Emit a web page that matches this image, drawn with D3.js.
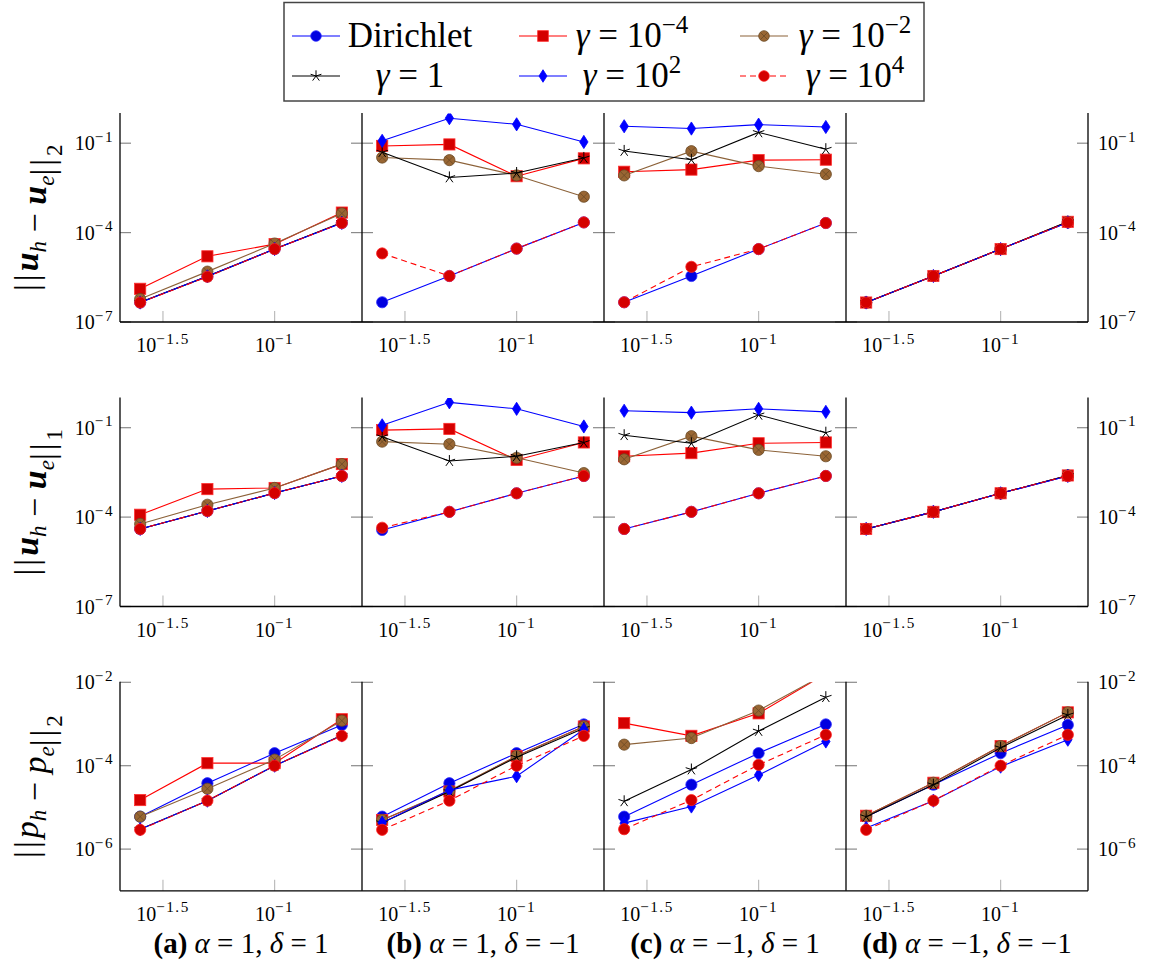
<!DOCTYPE html>
<html><head><meta charset="utf-8">
<script src="https://cdn.jsdelivr.net/npm/d3@7"></script>
<style>body{margin:0;background:#fff}svg{display:block}</style>
</head><body>
<svg id="c" width="1150" height="974"></svg>
<script>
// ---------- data ----------
const hValues = [0.025, 0.05, 0.1, 0.2];
const caseLetters = ["(a)", "(b)", "(c)", "(d)"];
const caseAlpha = ["1", "1", "\u22121", "\u22121"];
const caseDelta = ["1", "\u22121", "1", "\u22121"];
const seriesKeys = ["dir", "g1em4", "g1em2", "g1", "g1e2", "g1e4"];
const xTickValues = [Math.pow(10, -1.5), 0.1];
const xTickLabels = ["\u22121.5", "\u22121"];
const yTicksRowU = [1e-1, 1e-4, 1e-7];
const yTickLabelsRowU = ["\u22121", "\u22124", "\u22127"];
const yTicksRowP = [1e-2, 1e-4, 1e-6];
const yTickLabelsRowP = ["\u22122", "\u22124", "\u22126"];

// ||u_h - u_e||_2 : one array per series, 4 panels x 4 mesh sizes
const uL2_dir   = [[4.5e-7,3.4e-6,2.8e-5,2.1e-4],[4.6e-7,3.5e-6,2.9e-5,2.2e-4],[4.6e-7,3.5e-6,2.8e-5,2.1e-4],[4.5e-7,3.5e-6,2.8e-5,2.2e-4]];
const uL2_g1em4 = [[1.3e-6,1.6e-5,4.1e-5,4.7e-4],[8.1e-2,9.1e-2,7.8e-3,3.1e-2],[1.1e-2,1.3e-2,2.7e-2,2.8e-2],[4.5e-7,3.5e-6,2.8e-5,2.3e-4]];
const uL2_g1em2 = [[5.9e-7,4.9e-6,4.3e-5,4.4e-4],[3.3e-2,2.7e-2,8.3e-3,1.6e-3],[8.3e-3,5.4e-2,1.7e-2,9.1e-3],[4.5e-7,3.5e-6,2.8e-5,2.3e-4]];
const uL2_g1    = [[4.6e-7,3.4e-6,2.8e-5,2.2e-4],[5.0e-2,7.1e-3,1.0e-2,3.2e-2],[5.5e-2,2.8e-2,2.3e-1,6.3e-2],[4.5e-7,3.5e-6,2.8e-5,2.3e-4]];
const uL2_g1e2  = [[4.5e-7,3.4e-6,2.8e-5,2.1e-4],[1.2e-1,6.9e-1,4.3e-1,1.1e-1],[3.7e-1,3.1e-1,4.2e-1,3.5e-1],[4.5e-7,3.5e-6,2.8e-5,2.2e-4]];
const uL2_g1e4  = [[4.5e-7,3.3e-6,2.8e-5,2.1e-4],[2.0e-5,3.5e-6,2.9e-5,2.2e-4],[4.6e-7,7.1e-6,2.8e-5,2.1e-4],[4.5e-7,3.5e-6,2.8e-5,2.2e-4]];

// ||u_h - u_e||_1
const uH1_dir   = [[4.0e-5,1.6e-4,6.4e-4,2.4e-3],[3.7e-5,1.5e-4,6.3e-4,2.4e-3],[4.0e-5,1.5e-4,6.3e-4,2.4e-3],[4.0e-5,1.5e-4,6.3e-4,2.4e-3]];
const uH1_g1em4 = [[1.2e-4,8.7e-4,9.5e-4,6.0e-3],[8.3e-2,9.1e-2,8.3e-3,3.2e-2],[1.1e-2,1.4e-2,3.0e-2,3.2e-2],[4.0e-5,1.5e-4,6.3e-4,2.5e-3]];
const uH1_g1em2 = [[5.9e-5,2.6e-4,9.5e-4,6.0e-3],[3.4e-2,2.8e-2,9.8e-3,3.0e-3],[8.7e-3,5.2e-2,1.8e-2,1.1e-2],[4.0e-5,1.5e-4,6.3e-4,2.5e-3]];
const uH1_g1    = [[4.0e-5,1.6e-4,6.4e-4,2.4e-3],[5.0e-2,7.6e-3,1.1e-2,3.2e-2],[5.6e-2,3.0e-2,2.7e-1,6.8e-2],[4.0e-5,1.5e-4,6.3e-4,2.5e-3]];
const uH1_g1e2  = [[4.0e-5,1.6e-4,6.4e-4,2.4e-3],[1.2e-1,7.1e-1,4.3e-1,1.1e-1],[3.7e-1,3.2e-1,4.3e-1,3.4e-1],[4.0e-5,1.5e-4,6.3e-4,2.4e-3]];
const uH1_g1e4  = [[4.0e-5,1.6e-4,6.4e-4,2.4e-3],[4.4e-5,1.5e-4,6.3e-4,2.4e-3],[4.0e-5,1.5e-4,6.3e-4,2.4e-3],[4.0e-5,1.5e-4,6.3e-4,2.4e-3]];

// ||p_h - p_e||_2
const pL2_dir   = [[6.0e-6,3.8e-5,2.0e-4,9.5e-4],[6.0e-6,3.8e-5,2.0e-4,9.8e-4],[6.0e-6,3.5e-5,2.0e-4,9.8e-4],[6.0e-6,3.5e-5,2.0e-4,9.5e-4]];
const pL2_g1em4 = [[1.5e-5,1.15e-4,1.15e-4,1.3e-3],[5.0e-6,2.4e-5,1.7e-4,8.7e-4],[1.05e-3,5.2e-4,1.8e-3,1.6e-2],[6.3e-6,3.9e-5,2.95e-4,1.9e-3]];
const pL2_g1em2 = [[6.0e-6,2.8e-5,1.4e-4,1.2e-3],[5.0e-6,2.5e-5,1.7e-4,8.7e-4],[3.2e-4,4.6e-4,2.1e-3,1.6e-2],[6.3e-6,3.9e-5,2.95e-4,1.9e-3]];
const pL2_g1    = [[3.0e-6,1.45e-5,1.0e-4,5.4e-4],[4.3e-6,2.4e-5,1.6e-4,7.9e-4],[1.4e-5,8.1e-5,6.8e-4,4.4e-3],[6.0e-6,3.5e-5,2.7e-4,1.65e-3]];
const pL2_g1e2  = [[3.0e-6,1.45e-5,1.0e-4,5.3e-4],[4.3e-6,2.6e-5,5.6e-5,7.4e-4],[4.2e-6,1.05e-5,6.0e-5,3.8e-4],[3.2e-6,1.45e-5,9.5e-5,4.2e-4]];
const pL2_g1e4  = [[2.9e-6,1.45e-5,1.0e-4,5.2e-4],[2.9e-6,1.45e-5,1.0e-4,5.2e-4],[3.0e-6,1.5e-5,1.05e-4,5.5e-4],[2.9e-6,1.45e-5,1.0e-4,5.5e-4]];

// ---------- styles ----------
const styles = {
  dir:   {line:"#0000ff", dash:null, mark:"circle",  fill:"#0000e0", mstroke:"#3030ff"},
  g1em4: {line:"#ff0000", dash:null, mark:"square",  fill:"#d40000", mstroke:"#ff3030"},
  g1em2: {line:"#8c6239", dash:null, mark:"otimes",  fill:"#996633", mstroke:"#6b4a26"},
  g1:    {line:"#000000", dash:null, mark:"star",    fill:"none",    mstroke:"#000000"},
  g1e2:  {line:"#0000ff", dash:null, mark:"diamond", fill:"#0000ff", mstroke:"#0000ff"},
  g1e4:  {line:"#ff0000", dash:"6,4", mark:"circle", fill:"#d40000", mstroke:"#ff2020"}
};

const svg = d3.select("#c");
const FONT = "'Liberation Serif', 'DejaVu Serif', serif";

function drawMark(g, type, x, y, st, s) {
  s = s || 1;
  if (type === "circle") {
    g.append("circle").attr("cx", x).attr("cy", y).attr("r", 5.6*s)
      .attr("fill", st.fill).attr("stroke", st.mstroke).attr("stroke-width", 0.8);
  } else if (type === "square") {
    const a = 5.6*s;
    g.append("rect").attr("x", x-a).attr("y", y-a).attr("width", 2*a).attr("height", 2*a)
      .attr("fill", st.fill).attr("stroke", st.mstroke).attr("stroke-width", 0.8);
  } else if (type === "otimes") {
    const r = 5.6*s, d = r*0.7;
    g.append("circle").attr("cx", x).attr("cy", y).attr("r", r)
      .attr("fill", st.fill).attr("stroke", st.mstroke).attr("stroke-width", 0.8);
    g.append("path").attr("d", `M${x-d},${y-d}L${x+d},${y+d}M${x-d},${y+d}L${x+d},${y-d}`)
      .attr("stroke", st.mstroke).attr("stroke-width", 0.8);
  } else if (type === "star") {
    const r = 6*s;
    let p = "";
    for (let k = 0; k < 5; k++) {
      const a = -Math.PI/2 + k*2*Math.PI/5;
      p += `M${x},${y}L${x + r*Math.cos(a)},${y + r*Math.sin(a)}`;
    }
    g.append("path").attr("d", p).attr("stroke", "#000").attr("stroke-width", 1).attr("fill", "none");
  } else if (type === "diamond") {
    const w = 4.2*s, h = 6.6*s;
    g.append("path").attr("d", `M${x},${y-h}L${x+w},${y}L${x},${y+h}L${x-w},${y}Z`)
      .attr("fill", st.fill).attr("stroke", st.mstroke).attr("stroke-width", 0.8);
  }
}

// ---------- layout ----------
const panelLefts = [120, 362, 604, 846];
const panelW = 242;
const rowDefs = [
  {top:113.4, bottom:322, domain:[1e-7, 1], ticks:yTicksRowU, tickLabels:yTickLabelsRowU,
   data:{dir:uL2_dir, g1em4:uL2_g1em4, g1em2:uL2_g1em2, g1:uL2_g1, g1e2:uL2_g1e2, g1e4:uL2_g1e4}, label:"u2"},
  {top:397.9, bottom:606.5, domain:[1e-7, 1], ticks:yTicksRowU, tickLabels:yTickLabelsRowU,
   data:{dir:uH1_dir, g1em4:uH1_g1em4, g1em2:uH1_g1em2, g1:uH1_g1, g1e2:uH1_g1e2, g1e4:uH1_g1e4}, label:"u1"},
  {top:682.3, bottom:890.8, domain:[1e-7, 1e-2], ticks:yTicksRowP, tickLabels:yTickLabelsRowP,
   data:{dir:pL2_dir, g1em4:pL2_g1em4, g1em2:pL2_g1em2, g1:pL2_g1, g1e2:pL2_g1e2, g1e4:pL2_g1e4}, label:"p2"}
];

// x domain: data range enlarged by 10% on each side (log space)
const lmin = Math.log10(d3.min(hValues)), lmax = Math.log10(d3.max(hValues));
const enl = 0.1 * (lmax - lmin);
const xDomain = [Math.pow(10, lmin - enl), Math.pow(10, lmax + enl)];

function powLabel(sel, x, y, exp, anchor, size) {
  const t = sel.append("text").attr("x", x).attr("y", y).attr("text-anchor", anchor)
    .attr("font-family", FONT).attr("font-size", size).attr("fill", "#000");
  t.append("tspan").text("10");
  t.append("tspan").attr("dy", -size*0.42).attr("font-size", size*0.76)
    .attr("letter-spacing", 1.5).text(exp);
  return t;
}

const defs = svg.append("defs");
const TICK = 20;

rowDefs.forEach((row, ri) => {
  const y = d3.scaleLog().domain(row.domain).range([row.bottom, row.top]);
  panelLefts.forEach((left, pi) => {
    const x = d3.scaleLog().domain(xDomain).range([left, left + panelW]);
    const g = svg.append("g");
    const clipId = `clip-${ri}-${pi}`;
    defs.append("clipPath").attr("id", clipId).append("rect")
      .attr("x", left).attr("y", row.top).attr("width", panelW).attr("height", row.bottom - row.top);

    // y ticks (inward on left and right)
    const tl = 11;
    row.ticks.forEach(v => {
      const yy = y(v);
      g.append("line").attr("x1", left).attr("x2", left + tl).attr("y1", yy).attr("y2", yy)
        .attr("stroke", "#8a8a8a").attr("stroke-width", 1.2);
      g.append("line").attr("x1", left + panelW - tl).attr("x2", left + panelW).attr("y1", yy).attr("y2", yy)
        .attr("stroke", "#8a8a8a").attr("stroke-width", 1.2);
    });
    // x ticks
    xTickValues.forEach((v, k) => {
      const xx = x(v);
      g.append("line").attr("x1", xx).attr("x2", xx).attr("y1", row.bottom).attr("y2", row.bottom - tl)
        .attr("stroke", "#bdbdbd").attr("stroke-width", 1.2);
      powLabel(g, xx, row.bottom + 30, xTickLabels[k], "middle", TICK);
    });

    // series
    const pg = g.append("g").attr("clip-path", `url(#${clipId})`);
    const lineGen = d3.line().x((d, i) => x(hValues[i])).y(d => y(d));
    seriesKeys.forEach(key => {
      const st = styles[key];
      const vals = row.data[key][pi];
      pg.append("path").attr("d", lineGen(vals)).attr("fill", "none")
        .attr("stroke", st.line).attr("stroke-width", 1.1)
        .attr("stroke-dasharray", st.dash);
      vals.forEach((v, i) => drawMark(pg, st.mark, x(hValues[i]), y(v), st));
    });

    // axis lines: left & bottom (plus right on last panel)
    g.append("line").attr("x1", left).attr("x2", left).attr("y1", row.top - 0.5).attr("y2", row.bottom)
      .attr("stroke", "#000").attr("stroke-width", 1.3);
    g.append("line").attr("x1", left).attr("x2", left + panelW).attr("y1", row.bottom).attr("y2", row.bottom)
      .attr("stroke", "#000").attr("stroke-width", 1.3);
    if (pi === 3) {
      g.append("line").attr("x1", left + panelW).attr("x2", left + panelW).attr("y1", row.top - 0.5).attr("y2", row.bottom)
        .attr("stroke", "#000").attr("stroke-width", 1.3);
    }

    // y tick labels
    if (pi === 0) {
      row.ticks.forEach((v, k) => powLabel(g, left - 6, y(v) + 7, row.tickLabels[k], "end", TICK));
    }
    if (pi === 3) {
      row.ticks.forEach((v, k) => powLabel(g, left + panelW + 10, y(v) + 7, row.tickLabels[k], "start", TICK));
    }
  });

  // row label (rotated)
  const cy = (row.top + row.bottom) / 2;
  const t = svg.append("text").attr("transform", `translate(38,${cy}) rotate(-90)`)
    .attr("text-anchor", "middle").attr("font-family", FONT).attr("font-size", 34).attr("fill", "#000");
  const sub = (txt) => t.append("tspan").attr("font-style", "italic").attr("font-size", 23).attr("dy", 8).text(txt);
  const up = () => t.append("tspan").attr("dy", -8).text("");
  const bars = () => t.append("tspan").attr("letter-spacing", 3).text("||");
  bars();
  if (row.label === "p2") {
    t.append("tspan").attr("font-style", "italic").text("p");
    sub("h"); up();
    t.append("tspan").text(" \u2212 ");
    t.append("tspan").attr("font-style", "italic").text("p");
    sub("e"); up();
  } else {
    t.append("tspan").attr("font-style", "italic").attr("font-weight", "bold").text("u");
    sub("h"); up();
    t.append("tspan").text(" \u2212 ");
    t.append("tspan").attr("font-style", "italic").attr("font-weight", "bold").text("u");
    sub("e"); up();
  }
  bars();
  t.append("tspan").attr("font-size", 23).attr("dy", 8).text(row.label === "u1" ? "1" : "2");
});

// captions
panelLefts.forEach((left, pi) => {
  const t = svg.append("text").attr("x", left + panelW/2).attr("y", 953).attr("text-anchor", "middle")
    .attr("font-family", FONT).attr("font-size", 29).attr("fill", "#000");
  t.append("tspan").attr("font-weight", "bold").text(caseLetters[pi]);
  t.append("tspan").text(" ");
  t.append("tspan").attr("font-style", "italic").text("\u03b1");
  t.append("tspan").text(" = " + caseAlpha[pi] + ", ");
  t.append("tspan").attr("font-style", "italic").text("\u03b4");
  t.append("tspan").text(" = " + caseDelta[pi]);
});

// legend
const lg = svg.append("g");
lg.append("rect").attr("x", 284).attr("y", 2.5).attr("width", 640).attr("height", 98.5)
  .attr("fill", "#fff").attr("stroke", "#444").attr("stroke-width", 1.5);
const legendCols = [316, 543, 764];
const legendTextCols = [410, 632, 855];
const legendRows = [36, 76];
const legendExps = [null, "\u22124", "\u22122", null, "2", "4"];
seriesKeys.forEach((key, i) => {
  const c = i % 3, r = Math.floor(i / 3);
  const cx = legendCols[c], cy = legendRows[r];
  const st = styles[key];
  lg.append("line").attr("x1", cx - 24).attr("x2", cx + 24).attr("y1", cy).attr("y2", cy)
    .attr("stroke", st.line).attr("stroke-width", 1.1).attr("stroke-dasharray", st.dash);
  drawMark(lg, st.mark, cx, cy, st, 0.95);
  const t = lg.append("text").attr("x", legendTextCols[c]).attr("y", cy + 11).attr("text-anchor", "middle")
    .attr("font-family", FONT).attr("font-size", 35).attr("fill", "#000");
  if (key === "dir") {
    t.text("Dirichlet");
  } else {
    t.append("tspan").attr("font-style", "italic").text("\u03b3");
    if (key === "g1") {
      t.append("tspan").text(" = 1");
    } else {
      t.append("tspan").text(" = 10");
      t.append("tspan").attr("dy", -14).attr("font-size", 25).text(legendExps[i]);
    }
  }
});
</script>
</body></html>
